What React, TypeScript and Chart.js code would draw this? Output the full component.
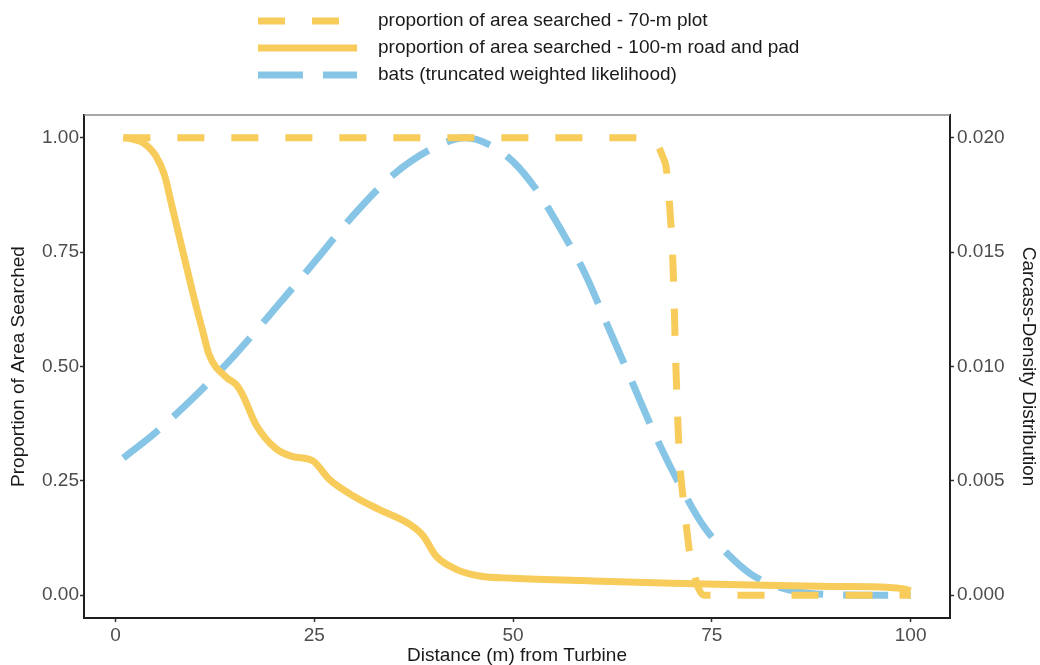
import React, { useEffect, useRef } from "react";
import { Chart, registerables } from "chart.js";

Chart.register(...registerables);

// ---- data ----
const xTicks = [0, 25, 50, 75, 100];
const yTicks = [0, 0.25, 0.5, 0.75, 1.0];
const y1Ticks = [0, 0.005, 0.01, 0.015, 0.02];

const seriesLabels = [
  "proportion of area searched - 70-m plot",
  "proportion of area searched - 100-m road and pad",
  "bats (truncated weighted likelihood)",
];

const plot70Dist = [1, 10, 20, 30, 40, 50, 60, 66, 67.5, 68.3, 68.8, 69.3, 69.7, 70.1, 70.5, 70.9, 71.4, 71.8, 72.2, 72.8, 73.4, 74, 80, 90, 100];
const plot70Prop = [1, 1, 1, 1, 1, 1, 1, 1, 0.995, 0.98, 0.96, 0.93, 0.85, 0.73, 0.49, 0.31, 0.21, 0.15, 0.094, 0.045, 0.012, 0, 0, 0, 0];

const roadDist = [1, 2, 3.4, 5.1, 6.2, 7.0, 8.5, 9.9, 11.0, 11.8, 13.9, 15.2, 16.0, 17.7, 20.2, 22.3, 24.8, 26.9, 30.3, 33.2, 37.0, 38.7, 40.3, 42.8, 45.8, 50, 60, 70, 80, 90, 97, 99, 100];
const roadProp = [1.0, 0.998, 0.99, 0.96, 0.917, 0.859, 0.75, 0.649, 0.576, 0.525, 0.477, 0.46, 0.438, 0.372, 0.32, 0.303, 0.294, 0.253, 0.213, 0.187, 0.155, 0.13, 0.086, 0.057, 0.042, 0.037, 0.031, 0.026, 0.022, 0.019, 0.017, 0.014, 0.009];

const batsDist = [1, 5, 10, 15, 20, 25, 30, 35, 40, 44, 47, 50, 53, 56, 59, 62, 65, 68, 71, 74, 77, 80, 83, 86, 90, 95, 100];
const batsDensity = [0.006, 0.0071, 0.0087, 0.0105, 0.0125, 0.01456, 0.01664, 0.0184, 0.01956, 0.02, 0.0197, 0.01896, 0.0177, 0.016, 0.0141, 0.0117, 0.0093, 0.0069, 0.0048, 0.003, 0.0018, 0.0009, 0.0004, 0.00014, 0.00002, 0, 0];

// ---- styles ----
const YELLOW = "#F8CC5A";
const BLUE = "#87C5E6";
const FONT = "'Liberation Sans', Arial, Helvetica, sans-serif";

const toPoints = (xs: number[], ys: number[]) => xs.map((x, i) => ({ x, y: ys[i] }));

const legendPlugin = {
  id: "customLegend",
  afterDraw(chart: any) {
    const ctx = chart.ctx as CanvasRenderingContext2D;
    const rows = [21, 48, 75];
    const x0 = 258;
    const x1 = 357;
    const tx = 378;
    ctx.save();
    chart.data.datasets.forEach((ds: any, i: number) => {
      const y = rows[i];
      ctx.beginPath();
      ctx.strokeStyle = ds.borderColor;
      ctx.lineWidth = ds.borderWidth;
      ctx.lineCap = "butt";
      ctx.setLineDash(ds.borderDash || []);
      ctx.moveTo(x0, y);
      ctx.lineTo(x1, y);
      ctx.stroke();
      ctx.setLineDash([]);
      ctx.fillStyle = "#1a1a1a";
      ctx.font = `19px ${FONT}`;
      ctx.textAlign = "left";
      ctx.textBaseline = "middle";
      ctx.fillText(ds.label, tx, y);
    });
    // top panel border
    const a = chart.chartArea;
    ctx.beginPath();
    ctx.strokeStyle = "#8a8a8a";
    ctx.lineWidth = 1.5;
    ctx.moveTo(a.left, a.top);
    ctx.lineTo(a.right, a.top);
    ctx.stroke();
    ctx.restore();
  },
};

export default function App() {
  const ref = useRef<HTMLCanvasElement | null>(null);

  useEffect(() => {
    document.body.style.margin = "0";
    if (!ref.current) return;
    const tickFont = { family: FONT, size: 19 };
    const titleFont = { family: FONT, size: 19, lineHeight: 1 };
    const grid = {
      drawOnChartArea: false,
      drawTicks: true,
      tickLength: 4,
      tickColor: "#333333",
      tickWidth: 1.5,
    };
    const border = { display: true, color: "#1f1f1f", width: 2 };

    const chart = new Chart(ref.current, {
      type: "line",
      data: {
        datasets: [
          {
            label: seriesLabels[0],
            data: toPoints(plot70Dist, plot70Prop),
            borderColor: YELLOW,
            borderWidth: 7,
            borderDash: [27, 27],
            pointRadius: 0,
            cubicInterpolationMode: "monotone",
            fill: false,
            yAxisID: "y",
          },
          {
            label: seriesLabels[1],
            data: toPoints(roadDist, roadProp),
            borderColor: YELLOW,
            borderWidth: 7,
            pointRadius: 0,
            cubicInterpolationMode: "monotone",
            fill: false,
            yAxisID: "y",
          },
          {
            label: seriesLabels[2],
            data: toPoints(batsDist, batsDensity),
            borderColor: BLUE,
            borderWidth: 7,
            borderDash: [45, 20],
            pointRadius: 0,
            cubicInterpolationMode: "monotone",
            fill: false,
            yAxisID: "y1",
          },
        ] as any,
      },
      options: {
        animation: false,
        responsive: false,
        maintainAspectRatio: false,
        layout: { padding: { top: 115, left: 0, right: 0, bottom: 0 } },
        plugins: { legend: { display: false }, tooltip: { enabled: false } },
        scales: {
          x: {
            type: "linear",
            min: -3.95,
            max: 104.95,
            afterBuildTicks: (ax: any) => {
              ax.ticks = xTicks.map((v) => ({ value: v }));
            },
            afterFit: (ax: any) => {
              ax.height = 47;
            },
            grid,
            border,
            ticks: {
              color: "#4d4d4d",
              font: tickFont,
              padding: 2,
              maxRotation: 0,
              autoSkip: false,
              callback: (v: any) => String(v),
            },
            title: {
              display: true,
              text: "Distance (m) from Turbine",
              color: "#1a1a1a",
              font: titleFont,
              padding: 0,
            },
          },
          y: {
            type: "linear",
            position: "left",
            min: -0.05,
            max: 1.05,
            afterBuildTicks: (ax: any) => {
              ax.ticks = yTicks.map((v) => ({ value: v }));
            },
            afterFit: (ax: any) => {
              ax.width = 84;
            },
            grid,
            border,
            ticks: {
              color: "#4d4d4d",
              font: tickFont,
              padding: 1,
              callback: (v: any) => Number(v).toFixed(2),
            },
            title: {
              display: true,
              text: "Proportion of Area Searched",
              color: "#1a1a1a",
              font: titleFont,
              padding: { top: 9, bottom: 0 },
            },
          },
          y1: {
            type: "linear",
            position: "right",
            min: -0.001,
            max: 0.021,
            afterBuildTicks: (ax: any) => {
              ax.ticks = y1Ticks.map((v) => ({ value: v }));
            },
            afterFit: (ax: any) => {
              ax.width = 90;
            },
            grid,
            border,
            ticks: {
              color: "#4d4d4d",
              font: tickFont,
              padding: 3,
              callback: (v: any) => Number(v).toFixed(3),
            },
            title: {
              display: true,
              text: "Carcass-Density Distribution",
              color: "#1a1a1a",
              font: titleFont,
              padding: { top: 2.5, bottom: 0 },
            },
          },
        },
      } as any,
      plugins: [legendPlugin],
    });
    return () => chart.destroy();
  }, []);

  return (
    <div style={{ width: 1040, height: 665, background: "#fff" }}>
      <canvas ref={ref} width={1040} height={665} style={{ display: "block" }} />
    </div>
  );
}
